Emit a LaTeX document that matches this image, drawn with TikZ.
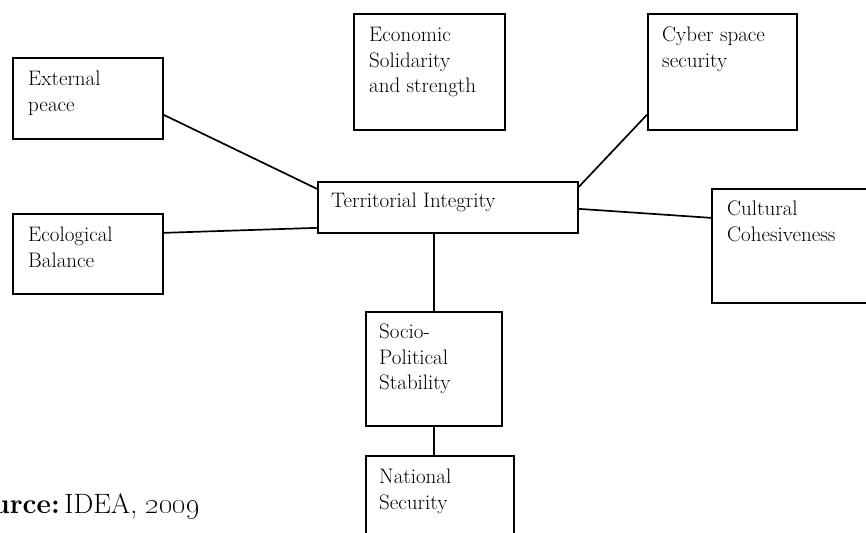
\documentclass[tikz,border=0pt]{standalone}
\usepackage{tikz}

\tikzset{
  box/.style={draw, line width=1.7pt, anchor=north west, inner sep=0pt},
  txt/.style={anchor=north west, align=left, inner sep=0pt,
    font=\fontsize{21}{25.5}\selectfont},
  link/.style={line width=1.7pt}
}

\begin{document}
\begin{tikzpicture}[x=1pt, y=-1pt]
    \useasboundingbox (0,0) rectangle (866,532);
    \clip (0,0) rectangle (866,532);

    % Boxes
    \node[box, minimum width=150, minimum height=81] (ext) at (12,57) {};
    \node[box, minimum width=150, minimum height=80] (eco) at (12,213) {};
    \node[box, minimum width=151, minimum height=116] (econ) at (353,13) {};
    \node[box, minimum width=149, minimum height=116] (cyber) at (647,13) {};
    \node[box, minimum width=260, minimum height=51] (terr) at (317,181) {};
    \node[box, minimum width=170, minimum height=114] (cult) at (711,188) {};
    \node[box, minimum width=136, minimum height=114] (socio) at (365,311) {};
    \node[box, minimum width=148, minimum height=100] (nat) at (365,455) {};

    % Box texts
    \node[txt] (ext-t) at ([shift={(16,14)}]ext.north west) {External\\peace};
    \node[txt] (eco-t) at ([shift={(16,14)}]eco.north west) {Ecological\\Balance};
    \node[txt] (econ-t) at ([shift={(16,14)}]econ.north west) {Economic\\Solidarity\\and strength};
    \node[txt] (cyber-t) at ([shift={(15,14)}]cyber.north west) {Cyber space\\security};
    \node[txt] (terr-t) at ([shift={(14,12)}]terr.north west) {Territorial Integrity};
    \node[txt] (cult-t) at ([shift={(16,13)}]cult.north west) {Cultural\\Cohesiveness};
    \node[txt] (socio-t) at ([shift={(14,13)}]socio.north west) {Socio-\\Political\\Stability};
    \node[txt] (nat-t) at ([shift={(14,14)}]nat.north west) {National\\Security};

    % Links
    \draw[link] ([yshift=-16.5pt]ext.east) -- ([yshift=18.5pt]terr.west);
    \draw[link] ([yshift=21pt]eco.east) -- ([yshift=-20.5pt]terr.west);
    \draw[link] ([yshift=16pt]cyber.south west) -- ([yshift=-6pt]terr.north east);
    \draw[link] ([yshift=-1.5pt]terr.east) -- ([yshift=28pt]cult.west);
    \draw[link] (socio.north) -- (socio.north |- terr.south);
    \draw[link] (socio.south) -- (socio.south |- nat.north);

    % Source
    \node[anchor=base east, inner sep=0pt, font=\fontsize{28}{32}\selectfont] (src)
      at (200,513) {\textbf{Source:}\,IDEA, \oldstylenums{2009}};
\end{tikzpicture}
\end{document}
